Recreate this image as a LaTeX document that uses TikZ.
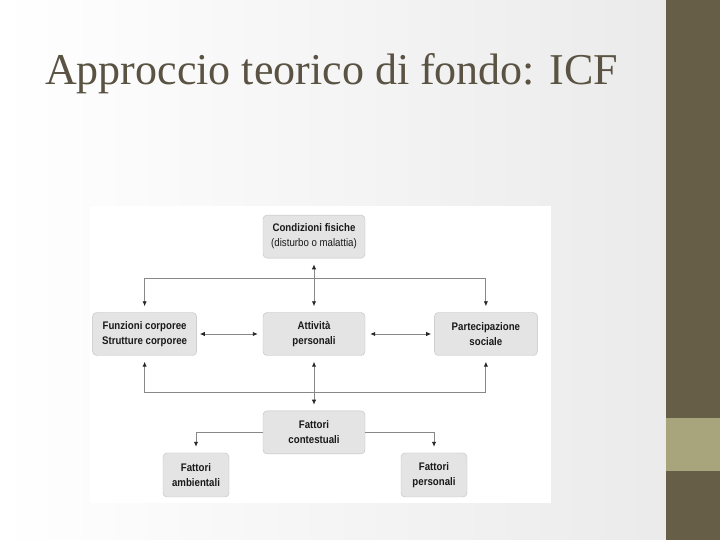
\documentclass[tikz,border=0pt]{standalone}
\usepackage{fontspec}
\setmainfont{Liberation Serif}
\newfontfamily\boxfont[FakeStretch=0.88]{Liberation Sans}
\usepackage{tikz}
\usetikzlibrary{arrows.meta,positioning}
\usepackage{xcolor}
\definecolor{icfdark}{HTML}{675E47}
\definecolor{icfband}{HTML}{A8A57C}
\definecolor{icftitle}{HTML}{5A5343}
\definecolor{icfbox}{HTML}{E4E4E4}
\definecolor{icfedge}{HTML}{C0C0C0}
\definecolor{icfline}{HTML}{888888}

\begin{document}
\begin{tikzpicture}[
  x=1pt, y=1pt,
  node distance=54pt and 66pt,
  box/.style={
    rectangle, draw=icfedge, fill=icfbox, rounded corners=4pt,
    minimum width=102pt, minimum height=43pt, align=center, inner sep=1pt,
    text=black!90, font=\boxfont\fontsize{11}{15}\selectfont\bfseries
  },
  smallbox/.style={box, minimum width=66pt, minimum height=44pt},
  arr/.style={-{Latex[length=5pt,width=4.4pt,color=black!85]}, line width=0.9pt,
    color=icfline, shorten >=6pt},
  dblarr/.style={{Latex[length=5pt,width=4.4pt,color=black!85]}-{Latex[length=5pt,width=4.4pt,color=black!85]},
    line width=0.9pt, color=icfline, shorten >=6pt, shorten <=6pt},
]
  \useasboundingbox (0,0) rectangle (720,540);

  % Slide background
  \fill[left color=white, right color=black!8] (0,0) rectangle (666,540);
  \fill[icfdark] (666,0) rectangle (720,540);
  \fill[icfband] (666,69) rectangle (720,122);
  \fill[white] (90,37) rectangle (551,334);

  % Title
  \node[anchor=base west, inner sep=0pt, text=icftitle,
    font=\fontsize{44}{52}\selectfont] (title) at (45,455)
    {Approccio teorico di fondo: ICF};

  % ICF boxes
  \node[box] (act) at (314,206) {Attività\\personali};
  \node[box, above=of act] (cond) {Condizioni fisiche\\\mdseries(disturbo o malattia)};
  \node[box, minimum width=104pt, left=of act] (fun) {Funzioni corporee\\Strutture corporee};
  \node[box, minimum width=103pt, right=69pt of act] (par) {Partecipazione\\sociale};
  \node[box, below=55pt of act] (ctx) {Fattori\\contestuali};
  \node[smallbox] (amb) at (196,65) {Fattori\\ambientali};
  \node[smallbox] (per) at (434,65) {Fattori\\personali};

  % Bus lines
  \path (cond.south) ++(0,-20pt) coordinate (topbus);
  \path (ctx.north) ++(0,18pt) coordinate (lowbus);

  % Arrows
  \draw[dblarr] (cond) -- (act);
  \draw[dblarr] (act) -- (ctx);
  \draw[dblarr, shorten <=3pt, shorten >=5pt] (fun) -- (act);
  \draw[dblarr, shorten <=5pt, shorten >=3pt] (act) -- (par);
  \draw[arr] (topbus) -| (fun);
  \draw[arr] (topbus) -| (par);
  \draw[arr] (lowbus) -| (fun);
  \draw[arr] (lowbus) -| (par);
  \draw[arr] (ctx) -| (amb);
  \draw[arr] (ctx) -| (per);
\end{tikzpicture}
\end{document}
